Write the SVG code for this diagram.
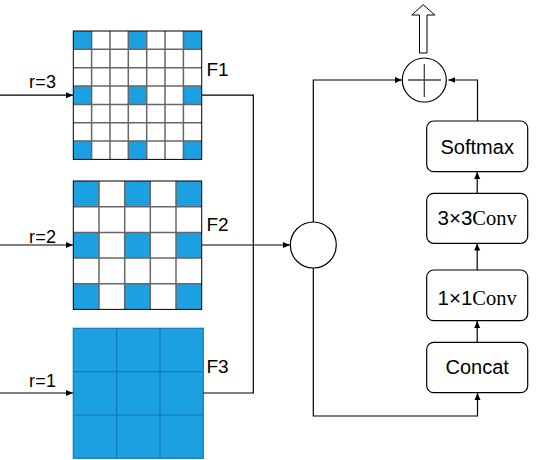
<svg xmlns="http://www.w3.org/2000/svg" width="540" height="460" viewBox="0 0 540 460">
<defs>
<style>
.t{font-family:"Liberation Sans",Arial,sans-serif;fill:#000}
.s{font-family:"Liberation Serif","Times New Roman",serif}
.r{font-size:18px;letter-spacing:0.3px}
.f{font-size:19px}
.ln{fill:none;stroke:#000;stroke-width:1.2}
.gl{stroke:#666;stroke-width:1.5}
.bl{fill:#1BA1E2}
.box{fill:#fff;stroke:#000;stroke-width:1.2}
</style>
<marker id="ah" markerWidth="8" markerHeight="8" refX="7" refY="4" orient="auto" markerUnits="userSpaceOnUse">
<path d="M0,1 L7,4 L0,7 Z" fill="#000"/>
</marker>
</defs>
<rect width="540" height="460" fill="#fff"/>

<g id="F1">
<rect x="73.3" y="31" width="128.4" height="128.4" fill="#fff"/>
<g class="bl">
<rect x="73.3" y="31" width="18.34" height="18.34"/><rect x="128.3" y="31" width="18.34" height="18.34"/><rect x="183.4" y="31" width="18.34" height="18.34"/>
<rect x="73.3" y="86" width="18.34" height="18.34"/><rect x="128.3" y="86" width="18.34" height="18.34"/><rect x="183.4" y="86" width="18.34" height="18.34"/>
<rect x="73.3" y="141" width="18.34" height="18.34"/><rect x="128.3" y="141" width="18.34" height="18.34"/><rect x="183.4" y="141" width="18.34" height="18.34"/>
</g>
<g class="gl">
<line x1="91.6" y1="31" x2="91.6" y2="159.4"/><line x1="110" y1="31" x2="110" y2="159.4"/><line x1="128.3" y1="31" x2="128.3" y2="159.4"/><line x1="146.7" y1="31" x2="146.7" y2="159.4"/><line x1="165" y1="31" x2="165" y2="159.4"/><line x1="183.4" y1="31" x2="183.4" y2="159.4"/>
<line x1="73.3" y1="49.3" x2="201.7" y2="49.3"/><line x1="73.3" y1="67.7" x2="201.7" y2="67.7"/><line x1="73.3" y1="86" x2="201.7" y2="86"/><line x1="73.3" y1="104.4" x2="201.7" y2="104.4"/><line x1="73.3" y1="122.7" x2="201.7" y2="122.7"/><line x1="73.3" y1="141" x2="201.7" y2="141"/>
</g>
<rect x="73.3" y="31" width="128.4" height="128.4" fill="none" stroke="#000" stroke-width="1"/>
<text class="t f" x="206.5" y="75.5">F1</text>
</g>

<g id="F2">
<rect x="73.3" y="181" width="128.4" height="128.4" fill="#fff"/>
<g class="bl">
<rect x="73.3" y="181" width="25.68" height="25.68"/><rect x="124.7" y="181" width="25.68" height="25.68"/><rect x="176" y="181" width="25.68" height="25.68"/>
<rect x="73.3" y="232.4" width="25.68" height="25.68"/><rect x="124.7" y="232.4" width="25.68" height="25.68"/><rect x="176" y="232.4" width="25.68" height="25.68"/>
<rect x="73.3" y="283.7" width="25.68" height="25.68"/><rect x="124.7" y="283.7" width="25.68" height="25.68"/><rect x="176" y="283.7" width="25.68" height="25.68"/>
</g>
<g class="gl">
<line x1="99" y1="181" x2="99" y2="309.4"/><line x1="124.7" y1="181" x2="124.7" y2="309.4"/><line x1="150.3" y1="181" x2="150.3" y2="309.4"/><line x1="176" y1="181" x2="176" y2="309.4"/>
<line x1="73.3" y1="206.7" x2="201.7" y2="206.7"/><line x1="73.3" y1="232.4" x2="201.7" y2="232.4"/><line x1="73.3" y1="258" x2="201.7" y2="258"/><line x1="73.3" y1="283.7" x2="201.7" y2="283.7"/>
</g>
<rect x="73.3" y="181" width="128.4" height="128.4" fill="none" stroke="#000" stroke-width="1"/>
<text class="t f" x="206.5" y="231">F2</text>
</g>

<g id="F3">
<rect x="73.3" y="328.3" width="130" height="130" fill="#1BA1E2" stroke="#1777B8" stroke-width="1.2"/>
<g stroke="#1777B8" stroke-width="1.2">
<line x1="116.6" y1="328.3" x2="116.6" y2="458.3"/><line x1="160" y1="328.3" x2="160" y2="458.3"/>
<line x1="73.3" y1="371.6" x2="203.3" y2="371.6"/><line x1="73.3" y1="415" x2="203.3" y2="415"/>
</g>
<text class="t f" x="206.5" y="373">F3</text>
</g>

<g id="inputs">
<text class="t r" x="29" y="88">r=3</text>
<text class="t r" x="29" y="243">r=2</text>
<text class="t r" x="29" y="387">r=1</text>
</g>

<g id="fuse">
<circle cx="313.3" cy="245" r="23" fill="#fff" stroke="#000" stroke-width="1.2"/>
</g>

<g id="plus">
<circle cx="424.3" cy="80" r="22" fill="#fff" stroke="#000" stroke-width="1.2"/>
<line x1="408" y1="80" x2="441" y2="80" stroke="#444" stroke-width="1.3"/>
<line x1="424.3" y1="64" x2="424.3" y2="97" stroke="#444" stroke-width="1.3"/>
</g>

<g id="out">
<path d="M419.5,53 L419.5,15 L411.8,15 L423.2,4.7 L434.8,15 L427,15 L427,53 Z" fill="#fff" stroke="#000" stroke-width="1"/>
</g>

<g id="softmax"><rect class="box" x="426.7" y="121" width="101" height="50.7" rx="7"/><text class="t" x="477.2" y="154" font-size="20" text-anchor="middle">Softmax</text></g>
<g id="conv3"><rect class="box" x="426.7" y="193.3" width="101" height="50" rx="7"/><text class="t" x="477.2" y="225" font-size="20.5" text-anchor="middle">3×3<tspan class="s">Conv</tspan></text></g>
<g id="conv1"><rect class="box" x="426.7" y="270" width="101" height="50.7" rx="7"/><text class="t" x="477.2" y="305" font-size="20.5" text-anchor="middle">1×1<tspan class="s">Conv</tspan></text></g>
<g id="concat"><rect class="box" x="426.7" y="342.3" width="101" height="50.4" rx="7"/><text class="t" x="477.2" y="374" font-size="20" text-anchor="middle">Concat</text></g>

<g id="connectors">
<line class="ln" x1="0" y1="95.2" x2="73" y2="95.2" marker-end="url(#ah)"/>
<line class="ln" x1="0" y1="245" x2="73" y2="245" marker-end="url(#ah)"/>
<line class="ln" x1="0" y1="393" x2="73" y2="393" marker-end="url(#ah)"/>
<polyline class="ln" points="201.7,95.2 253.3,95.2 253.3,393 203.3,393"/>
<line class="ln" x1="201.7" y1="245" x2="290" y2="245" marker-end="url(#ah)"/>
<polyline class="ln" points="313.3,222 313.3,80 401.8,80" marker-end="url(#ah)"/>
<polyline class="ln" points="313.3,268 313.3,416 477.5,416 477.5,393" marker-end="url(#ah)"/>
<polyline class="ln" points="477.5,121 477.5,80 448.3,80" marker-end="url(#ah)"/>
<line class="ln" x1="477.2" y1="193.3" x2="477.2" y2="172" marker-end="url(#ah)"/>
<line class="ln" x1="477.2" y1="270" x2="477.2" y2="243.5" marker-end="url(#ah)"/>
<line class="ln" x1="477.2" y1="342.3" x2="477.2" y2="321" marker-end="url(#ah)"/>
</g>
</svg>
